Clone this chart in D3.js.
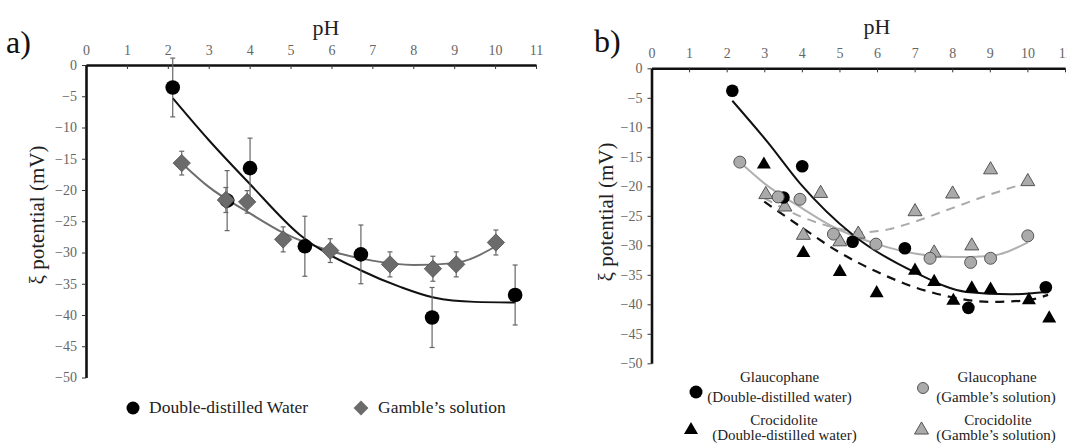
<!DOCTYPE html>
<html>
<head>
<meta charset="utf-8">
<script src="https://cdn.jsdelivr.net/npm/d3@7"></script>
<style>
  body { margin: 0; background: #fff; }
  svg, svg text { font-family: "Liberation Serif", "DejaVu Serif", serif; }
</style>
</head>
<body>
<div id="chart-area"></div>
<script>
// ticks
const phTicks = d3.range(0, 12)
const zetaTicks = d3.range(0, -55, -5)

// panel a) - glaucophane, double-distilled water (circles) / Gamble's solution (diamonds)
const waterPH   = [2.12, 3.45, 4.01, 5.35, 6.72, 8.46, 10.49]
const waterZeta = [-3.6, -21.7, -16.5, -29.0, -30.3, -40.4, -36.8]
const waterErr  = [4.7, 4.8, 4.8, 4.8, 4.7, 4.8, 4.8]

const gamblePH   = [2.34, 3.42, 3.94, 4.82, 5.97, 7.43, 8.48, 9.05, 10.02]
const gambleZeta = [-15.7, -21.6, -21.9, -27.9, -29.7, -31.9, -32.6, -31.9, -28.4]
const gambleErr  = [1.9, 2.0, 1.8, 2.0, 1.9, 2.0, 2.0, 2.0, 2.0]

// trend lines
const waterFitPH   = [2.12, 3.0, 4.0, 5.23, 6.7, 7.68, 8.5, 9.5, 10.5]
const waterFitZeta = [-5.3, -12.0, -19.0, -27.2, -32.8, -35.5, -37.2, -37.9, -38.0]
const gambleFitPH   = [2.34, 3.0, 4.0, 4.84, 6.0, 7.0, 8.0, 9.0, 10.02]
const gambleFitZeta = [-15.7, -19.5, -23.7, -26.9, -29.8, -31.3, -32.0, -31.7, -29.0]

// panel b)
const glauWaterPH   = [2.15, 3.51, 4.01, 5.35, 6.74, 8.43, 10.49]
const glauWaterZeta = [-3.8, -21.9, -16.6, -29.4, -30.5, -40.6, -37.1]
const glauGamblePH   = [2.35, 3.37, 3.95, 4.84, 5.97, 7.41, 8.49, 9.02, 10.01]
const glauGambleZeta = [-15.9, -21.8, -22.2, -28.1, -29.8, -32.2, -32.9, -32.2, -28.4]
const crociWaterPH   = [2.99, 4.04, 5.01, 5.99, 7.01, 7.52, 8.03, 8.52, 9.02, 10.04, 10.58]
const crociWaterZeta = [-16.3, -31.3, -34.5, -38.1, -34.3, -36.2, -39.4, -37.3, -37.5, -39.3, -42.4]
const crociGamblePH   = [3.04, 3.55, 4.04, 4.5, 5.01, 5.5, 7.01, 7.52, 8.01, 8.52, 9.02, 10.01]
const crociGambleZeta = [-21.4, -23.5, -28.3, -21.2, -29.4, -28.1, -24.3, -31.3, -21.3, -30.1, -17.2, -19.2]

const glauWaterFitPH   = [2.15, 3.1, 3.95, 5.37, 7.05, 8.38, 9.55, 10.5]
const glauWaterFitZeta = [-5.5, -12.6, -19.5, -28.3, -34.7, -37.9, -38.3, -37.9]
const glauGambleFitPH   = [2.35, 3.0, 4.0, 4.84, 6.0, 7.0, 8.0, 9.0, 10.01]
const glauGambleFitZeta = [-15.9, -19.5, -23.7, -26.9, -29.8, -31.4, -32.0, -31.8, -29.5]
const crociWaterFitPH   = [3.0, 4.0, 5.0, 6.0, 7.0, 8.0, 9.0, 10.0, 10.55]
const crociWaterFitZeta = [-22.6, -27.0, -31.2, -34.5, -37.1, -38.8, -39.6, -39.3, -38.4]
const crociGambleFitPH   = [3.0, 4.0, 5.0, 5.6, 6.3, 7.0, 8.0, 9.0, 10.0]
const crociGambleFitZeta = [-22.0, -25.2, -27.2, -27.8, -27.3, -26.0, -23.7, -21.4, -19.4]

const serif = "Liberation Serif, DejaVu Serif, serif"
const zip = (xs, ys, es) => xs.map((x, i) => ({ x: x, y: ys[i], e: es ? es[i] : 0 }))

const W = 1067, H = 444
const svg = d3.select("#chart-area").append("svg")
    .attr("width", W)
    .attr("height", H)
    .attr("font-family", serif)

const xA = d3.scaleLinear().domain([0, 11]).range([86, 536])
const yA = d3.scaleLinear().domain([0, -50]).range([65, 377.5])
const xB = d3.scaleLinear().domain([0, 11]).range([651.5, 1065])
const yB = d3.scaleLinear().domain([0, -50]).range([68.3, 363.3])

drawAxes = (x, y, opts) => {
  const g = svg.append("g")
  const top = g.append("g")
      .attr("transform", "translate(0," + y(0) + ")")
      .call(d3.axisTop(x).tickValues(phTicks).tickSizeInner(-4).tickSizeOuter(0).tickPadding(10))
  const left = g.append("g")
      .attr("transform", "translate(" + x(0) + ",0)")
      .call(d3.axisLeft(y).tickValues(zetaTicks).tickSizeInner(4).tickSizeOuter(0).tickPadding(5))
  ;[top, left].forEach(ax => {
    ax.attr("font-family", serif).attr("font-size", 14)
    ax.select(".domain").attr("stroke", "#111").attr("stroke-width", 2.6)
    ax.selectAll(".tick line").attr("stroke", "#333").attr("stroke-width", 1)
    ax.selectAll(".tick text").attr("fill", "#666")
  })
  g.append("text")
      .attr("x", opts.phX).attr("y", opts.phY)
      .attr("text-anchor", "middle")
      .attr("font-size", 22)
      .attr("fill", "#222")
      .text("pH")
  g.append("text")
      .attr("transform", "translate(" + opts.zX + "," + opts.zY + ") rotate(-90)")
      .attr("text-anchor", "middle")
      .attr("font-size", 21)
      .attr("fill", "#222")
      .text("ξ potential (mV)")
  g.append("text")
      .attr("x", opts.lblX).attr("y", opts.lblY)
      .attr("font-size", 32)
      .attr("fill", "#111")
      .text(opts.lbl)
}

drawAxes(xA, yA, { phX: 326, phY: 35, zX: 44, zY: 215, lblX: 6, lblY: 53, lbl: "a)" })
drawAxes(xB, yB, { phX: 877, phY: 34, zX: 613, zY: 212, lblX: 594, lblY: 52, lbl: "b)" })

const fit = (x, y) => d3.line().x(d => x(d.x)).y(d => y(d.y)).curve(d3.curveMonotoneX)

// ---------- panel a ----------
const gA = svg.append("g")

gA.append("path")
    .datum(zip(gambleFitPH, gambleFitZeta))
    .attr("fill", "none").attr("stroke", "#6e6e6e").attr("stroke-width", 2)
    .attr("d", fit(xA, yA))
gA.append("path")
    .datum(zip(waterFitPH, waterFitZeta))
    .attr("fill", "none").attr("stroke", "#111").attr("stroke-width", 2)
    .attr("d", fit(xA, yA))

errorBars = (g, data, x, y, color) => {
  const eb = g.append("g").attr("stroke", color).attr("stroke-width", 1.2)
  eb.selectAll("line.v").data(data).join("line")
      .attr("x1", d => x(d.x)).attr("x2", d => x(d.x))
      .attr("y1", d => y(d.y + d.e)).attr("y2", d => y(d.y - d.e))
  eb.selectAll("line.t").data(data).join("line")
      .attr("x1", d => x(d.x) - 2.5).attr("x2", d => x(d.x) + 2.5)
      .attr("y1", d => y(d.y + d.e)).attr("y2", d => y(d.y + d.e))
  eb.selectAll("line.b").data(data).join("line")
      .attr("x1", d => x(d.x) - 2.5).attr("x2", d => x(d.x) + 2.5)
      .attr("y1", d => y(d.y - d.e)).attr("y2", d => y(d.y - d.e))
}

const waterData = zip(waterPH, waterZeta, waterErr)
const gambleData = zip(gamblePH, gambleZeta, gambleErr)

errorBars(gA, waterData, xA, yA, "#666")
gA.append("g").selectAll("circle").data(waterData).join("circle")
    .attr("cx", d => xA(d.x)).attr("cy", d => yA(d.y)).attr("r", 7.3)
    .attr("fill", "#000")

errorBars(gA, gambleData, xA, yA, "#666")
const diamond = d3.symbol().type(d3.symbolSquare).size(150)
gA.append("g").selectAll("path").data(gambleData).join("path")
    .attr("transform", d => "translate(" + xA(d.x) + "," + yA(d.y) + ") rotate(45)")
    .attr("d", diamond)
    .attr("fill", "#6b6b6b").attr("stroke", "#555").attr("stroke-width", 0.8)

// legend a
const legA = svg.append("g").attr("font-size", 17.5).attr("fill", "#222")
legA.append("circle").attr("cx", 133).attr("cy", 408).attr("r", 6.5).attr("fill", "#000")
legA.append("text").attr("x", 149).attr("y", 413).text("Double-distilled Water")
legA.append("path")
    .attr("transform", "translate(361,408) rotate(45)")
    .attr("d", d3.symbol().type(d3.symbolSquare).size(110))
    .attr("fill", "#6b6b6b")
legA.append("text").attr("x", 378).attr("y", 413).text("Gamble\u2019s solution")

// ---------- panel b ----------
const gB = svg.append("g")

gB.append("path")
    .datum(zip(crociGambleFitPH, crociGambleFitZeta))
    .attr("fill", "none").attr("stroke", "#aaa").attr("stroke-width", 2)
    .attr("stroke-dasharray", "9,7")
    .attr("d", fit(xB, yB))
gB.append("path")
    .datum(zip(glauGambleFitPH, glauGambleFitZeta))
    .attr("fill", "none").attr("stroke", "#b0b0b0").attr("stroke-width", 2)
    .attr("d", fit(xB, yB))
gB.append("path")
    .datum(zip(crociWaterFitPH, crociWaterFitZeta))
    .attr("fill", "none").attr("stroke", "#111").attr("stroke-width", 2.2)
    .attr("stroke-dasharray", "9,7")
    .attr("d", fit(xB, yB))
gB.append("path")
    .datum(zip(glauWaterFitPH, glauWaterFitZeta))
    .attr("fill", "none").attr("stroke", "#111").attr("stroke-width", 2)
    .attr("d", fit(xB, yB))

const tri = d3.symbol().type(d3.symbolTriangle).size(85)

gB.append("g").selectAll("path").data(zip(crociGamblePH, crociGambleZeta)).join("path")
    .attr("transform", d => "translate(" + xB(d.x) + "," + yB(d.y) + ")")
    .attr("d", tri)
    .attr("fill", "#aaa").attr("stroke", "#555").attr("stroke-width", 1)
gB.append("g").selectAll("path").data(zip(crociWaterPH, crociWaterZeta)).join("path")
    .attr("transform", d => "translate(" + xB(d.x) + "," + yB(d.y) + ")")
    .attr("d", tri)
    .attr("fill", "#000")
gB.append("g").selectAll("circle").data(zip(glauWaterPH, glauWaterZeta)).join("circle")
    .attr("cx", d => xB(d.x)).attr("cy", d => yB(d.y)).attr("r", 6.3)
    .attr("fill", "#000")
gB.append("g").selectAll("circle").data(zip(glauGamblePH, glauGambleZeta)).join("circle")
    .attr("cx", d => xB(d.x)).attr("cy", d => yB(d.y)).attr("r", 6)
    .attr("fill", "#aaa").attr("stroke", "#555").attr("stroke-width", 1)

// legend b
const legB = svg.append("g").attr("font-size", 15).attr("fill", "#222").attr("text-anchor", "middle")
legB.append("circle").attr("cx", 696).attr("cy", 392).attr("r", 6.5).attr("fill", "#000")
legB.append("circle").attr("cx", 923).attr("cy", 388).attr("r", 5.5)
    .attr("fill", "#aaa").attr("stroke", "#555").attr("stroke-width", 1)
legB.append("path").attr("transform", "translate(691,430)").attr("d", tri).attr("fill", "#000")
legB.append("path").attr("transform", "translate(921.5,430)").attr("d", tri)
    .attr("fill", "#aaa").attr("stroke", "#555").attr("stroke-width", 1)

const legRows = [
  { x: 779.5, y: 382, t: "Glaucophane" },
  { x: 779.5, y: 402, t: "(Double-distilled water)" },
  { x: 997, y: 382, t: "Glaucophane" },
  { x: 996, y: 402, t: "(Gamble\u2019s solution)" },
  { x: 784, y: 424.5, t: "Crocidolite" },
  { x: 784.5, y: 440, t: "(Double-distilled water)" },
  { x: 998, y: 424.5, t: "Crocidolite" },
  { x: 996, y: 440, t: "(Gamble\u2019s solution)" }
]
legB.selectAll("text").data(legRows).join("text")
    .attr("x", d => d.x).attr("y", d => d.y)
    .text(d => d.t)
</script>
</body>
</html>
